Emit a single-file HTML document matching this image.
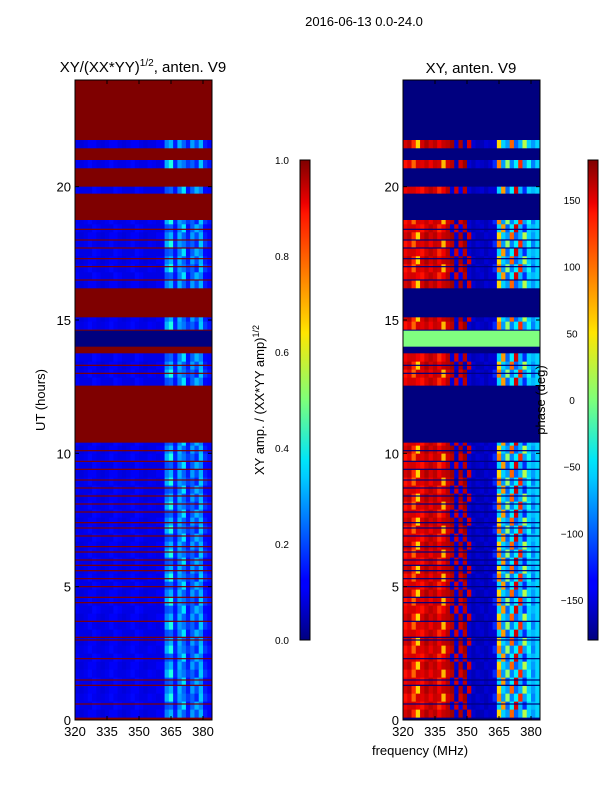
<!DOCTYPE html>
<html><head><meta charset="utf-8"><style>
body{margin:0;background:#fff;}
svg text{font-family:"Liberation Sans","DejaVu Sans",sans-serif;}
</style></head><body>
<svg id="fig" width="600" height="800" viewBox="0 0 600 800" xmlns="http://www.w3.org/2000/svg">
<rect width="600" height="800" fill="#fff"/>
<text x="364" y="26" font-size="13" text-anchor="middle">2016-06-13 0.0-24.0</text>
<text x="143" y="72" font-size="15" text-anchor="middle">XY/(XX*YY)<tspan font-size="10" dy="-6">1/2</tspan><tspan dy="6">, anten. V9</tspan></text>
<text x="471" y="73" font-size="15" text-anchor="middle">XY, anten. V9</text>
<g id="left"></g>
<g id="right"></g>
<g id="axes"></g>
<text transform="translate(45,400) rotate(-90)" font-size="13" text-anchor="middle">UT (hours)</text>
<text x="420" y="755" font-size="13" text-anchor="middle">frequency (MHz)</text>
<text transform="translate(264,400) rotate(-90)" font-size="13" text-anchor="middle">XY amp. / (XX*YY amp)<tspan font-size="9" dy="-5">1/2</tspan></text>
<text transform="translate(545,400) rotate(-90)" font-size="13" text-anchor="middle">phase (deg)</text>
<defs><linearGradient id="jet" x1="0" y1="1" x2="0" y2="0">
<stop offset="0" stop-color="#00007f"/><stop offset="0.11" stop-color="#0000ff"/><stop offset="0.125" stop-color="#0000ff"/><stop offset="0.34" stop-color="#00ccff"/><stop offset="0.375" stop-color="#00e5f8"/><stop offset="0.5" stop-color="#7dff7a"/><stop offset="0.64" stop-color="#ffe600"/><stop offset="0.66" stop-color="#ffd300"/><stop offset="0.89" stop-color="#ff1300"/><stop offset="0.91" stop-color="#ed0000"/><stop offset="1" stop-color="#7f0000"/></linearGradient></defs>
<rect x="300" y="160" width="10" height="480" fill="url(#jet)" stroke="#000" stroke-width="1"/>
<rect x="588" y="160" width="10" height="480" fill="url(#jet)" stroke="#000" stroke-width="1"/>
</svg>
<script>
// time bands (hours) with data present
const dataBands=[[0.1,10.4],[12.55,13.75],[14.65,15.1],[16.2,18.75],[19.75,20.0],[20.7,21.0],[21.45,21.75]];
// thin flagged lines inside data (hours)
const flagLines=[0.6,1.3,1.5,2.3,3.0,3.1,3.7,4.4,4.6,5.0,5.3,5.6,5.8,6.0,6.3,6.5,6.9,7.2,7.4,7.8,8.1,8.4,8.7,9.0,9.4,9.7,10.1,13.0,13.3,16.5,17.0,17.3,17.7,18.0,18.4];
// special band: value zero in amp, phase ~0
const zeroBands=[[14.0,14.6]];
// channel frequencies (MHz, bin starts) 2 MHz wide
const freqs=[320,322,324,326,328,330,332,334,336,338,340,342,344,346,348,350,352,354,356,358,360,362,364,366,368,370,372,374,376,378,380,382];
const ampA=[0.1,0.09,0.1,0.12,0.12,0.1,0.09,0.1,0.12,0.12,0.1,0.09,0.1,0.12,0.12,0.1,0.09,0.1,0.1,0.12,0.12,0.25,0.3,0.15,0.3,0.22,0.15,0.28,0.2,0.3,0.15,0.12];
const ampB=[0.12,0.1,0.1,0.1,0.13,0.12,0.1,0.1,0.1,0.13,0.12,0.1,0.1,0.1,0.13,0.12,0.1,0.1,0.1,0.1,0.1,0.2,0.22,0.14,0.25,0.35,0.14,0.22,0.3,0.25,0.13,0.12];
const ampC=[0.11,0.1,0.11,0.13,0.11,0.1,0.1,0.11,0.13,0.11,0.1,0.1,0.11,0.13,0.11,0.1,0.1,0.12,0.11,0.1,0.11,0.3,0.4,0.16,0.28,0.24,0.18,0.22,0.16,0.32,0.18,0.14];
const phA=[150,160,120,60,150,165,150,160,140,155,160,170,-150,165,-160,150,-150,-160,-160,-150,-155,-150,60,-60,-80,100,-100,-70,20,-60,-80,-60];
const phB=[140,150,150,140,130,150,160,150,120,140,160,-150,150,-140,160,-150,-160,-155,-150,-160,-150,-150,-60,80,-100,-50,150,-70,-120,-60,-70,-60];
const phC=[130,145,100,150,145,155,140,155,150,70,150,160,-160,150,170,-150,-160,-150,-155,-160,-150,-120,90,-80,10,-90,-50,120,-80,-40,-90,-60];
const ampTicks=[0,0.2,0.4,0.6,0.8,1.0];
const phTicks=[-150,-100,-50,0,50,100,150];
const xTicks=[320,335,350,365,380];
const yTicks=[0,5,10,15,20];

const NS='http://www.w3.org/2000/svg';
const Y0=720,PXH=640/24;
function yS(h){return Y0-h*PXH;}
function xS(f,base){return base+(f-320)*32/15;}
function jet(v){v=Math.max(0,Math.min(1,v));
 const r=Math.max(0,Math.min(1,1.5-Math.abs(4*v-3))),g=Math.max(0,Math.min(1,1.5-Math.abs(4*v-2))),b=Math.max(0,Math.min(1,1.5-Math.abs(4*v-1)));
 return 'rgb('+Math.round(r*255)+','+Math.round(g*255)+','+Math.round(b*255)+')';}
function rect(g,x,y,w,h,fill,name){const r=document.createElementNS(NS,'rect');
 r.setAttribute('x',x);r.setAttribute('y',y);r.setAttribute('width',w);r.setAttribute('height',h);r.setAttribute('fill',fill);
 
 
 g.appendChild(r);return r;}
function panel(gid,base,flagColor,profiles,scale,zeroColor){
 const g=document.getElementById(gid);
 const W=137;
 rect(g,base,80,W,640,flagColor,'flagged-background');
 const rowH=0.3;
 dataBands.forEach(function(b,bi){
  let k=0;
  for(let h=b[0];h<b[1]-0.001;h+=rowH){
   const h2=Math.min(b[1],h+rowH);
   const prof=profiles[(k+bi)%3];k++;
   freqs.forEach(function(f,i){
    const x1=xS(f,base),x2=Math.min(base+W,xS(f+2,base));
    rect(g,x1,yS(h2),x2-x1+0.3,yS(h)-yS(h2)+0.3,jet(scale(prof[i])),'heatmap-cell');
   });
  }
 });
 flagLines.forEach(function(h){rect(g,base,yS(h)-0.6,W,1.2,flagColor,'flagged-row');});
 zeroBands.forEach(function(z){rect(g,base,yS(z[1]),W,yS(z[0])-yS(z[1]),zeroColor,'zero-band');});
}
panel('left',75,'#7f0000',[ampA,ampB,ampC],function(v){return v;},'#00007f');
panel('right',403,'#00007f',[phA,phB,phC],function(v){return (v+180)/360;},'#80ff80');

const ax=document.getElementById('axes');
function line(x1,y1,x2,y2,name){const l=document.createElementNS(NS,'line');
 l.setAttribute('x1',x1);l.setAttribute('y1',y1);l.setAttribute('x2',x2);l.setAttribute('y2',y2);l.setAttribute('stroke','#000');
 
 
 ax.appendChild(l);}
function text(x,y,s,anchor,size,name){const t=document.createElementNS(NS,'text');
 t.setAttribute('x',x);t.setAttribute('y',y);t.setAttribute('text-anchor',anchor);t.setAttribute('font-size',size);t.textContent=s;
 
 
 ax.appendChild(t);}
[75,403].forEach(function(base){
 const fr=document.createElementNS(NS,'rect');
 fr.setAttribute('x',base);fr.setAttribute('y',80);fr.setAttribute('width',137);fr.setAttribute('height',640);fr.setAttribute('fill','none');fr.setAttribute('stroke','#000');
 
 
 ax.appendChild(fr);
 xTicks.forEach(function(f){const x=xS(f,base);line(x,720,x,716,'x-tick');line(x,80,x,84,'x-tick');text(x,736,String(f),'middle',13,'x-tick-label');});
 yTicks.forEach(function(h){const y=yS(h);line(base,y,base+4,y,'y-tick');line(base+137,y,base+133,y,'y-tick');text(base-4,y+5,String(h),'end',13,'y-tick-label');});
});
ampTicks.forEach(function(v){const y=640-v*480;line(306,y,310,y,'amp-colorbar-tick');text(282,y+4,v.toFixed(1),'middle',10,'amp-colorbar-tick-label');});
phTicks.forEach(function(v){const y=400-v*240/180;line(594,y,598,y,'phase-colorbar-tick');text(572,y+4,v<0?'\u2212'+Math.abs(v):String(v),'middle',10,'phase-colorbar-tick-label');});
</script>
</body></html>
